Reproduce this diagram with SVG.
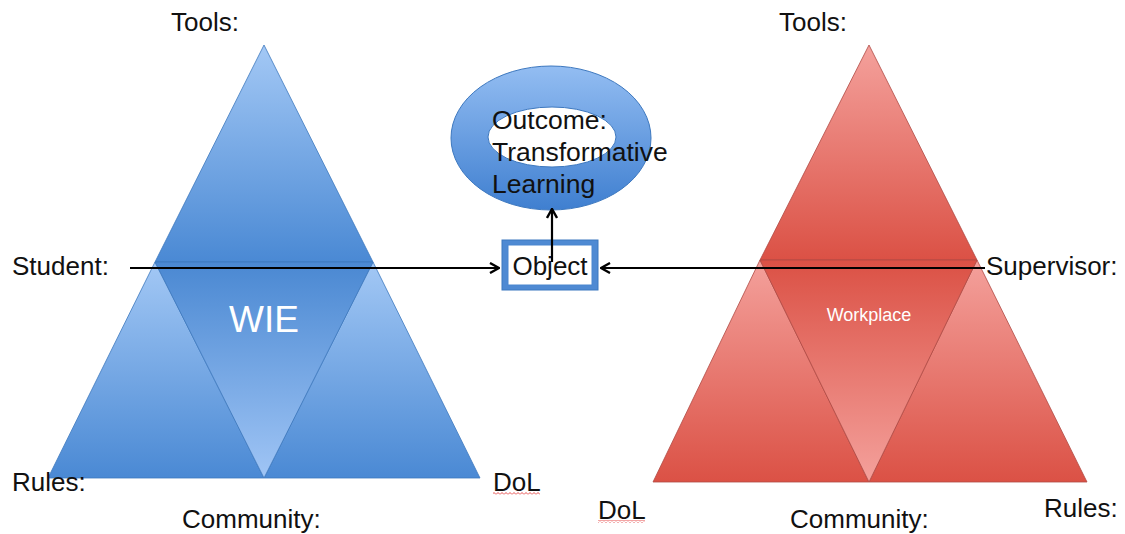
<svg xmlns="http://www.w3.org/2000/svg" width="1125" height="534" viewBox="0 0 1125 534">
<defs>
<linearGradient id="bUp" x1="0" y1="0" x2="0" y2="1"><stop offset="0" stop-color="#A3C8F5"/><stop offset="1" stop-color="#4A89D4"/></linearGradient>
<linearGradient id="bDown" x1="0" y1="0" x2="0" y2="1"><stop offset="0" stop-color="#4A88D2"/><stop offset="1" stop-color="#A0C5F5"/></linearGradient>
<linearGradient id="rUp" x1="0" y1="0" x2="0" y2="1"><stop offset="0" stop-color="#F4A19C"/><stop offset="1" stop-color="#DB5145"/></linearGradient>
<linearGradient id="rDown" x1="0" y1="0" x2="0" y2="1"><stop offset="0" stop-color="#DB5145"/><stop offset="1" stop-color="#F4A19C"/></linearGradient>
<linearGradient id="ring" x1="0" y1="0" x2="0" y2="1"><stop offset="0" stop-color="#93BDF2"/><stop offset="1" stop-color="#3F7FD0"/></linearGradient>
<marker id="arr" viewBox="0 0 12 12" refX="11" refY="6" markerWidth="12" markerHeight="12" markerUnits="userSpaceOnUse" orient="auto">
<path d="M2,1 L11,6 L2,11" fill="none" stroke="#000" stroke-width="2.4"/>
</marker>
<pattern id="wavy" width="4" height="3" patternUnits="userSpaceOnUse"><path d="M0,2.5 L2,0.5 L4,2.5" fill="none" stroke="#E02020" stroke-width="0.8"/></pattern>
</defs>
<style>
.lbl{font-family:"Liberation Sans",Arial,sans-serif;font-size:26px;fill:#111}
.bt{stroke:#3E78BE;stroke-width:0.8;stroke-linejoin:round}
.rt{stroke:#B04A44;stroke-width:0.8;stroke-linejoin:round}
.conn{stroke:#000;stroke-width:2.2;fill:none}
</style>

<g id="wie-triangle">
<polygon class="bt" points="264,45 373,262 155,262" fill="url(#bUp)"/>
<polygon class="bt" points="155,262 264,478 48,478" fill="url(#bUp)"/>
<polygon class="bt" points="373,262 480,478 264,478" fill="url(#bUp)"/>
<polygon class="bt" points="155,262 373,262 264,478" fill="url(#bDown)"/>
<text x="264" y="332" text-anchor="middle" style="font-family:'Liberation Sans',Arial,sans-serif;font-size:37px;fill:#fff">WIE</text>
</g>

<g id="workplace-triangle">
<polygon class="rt" points="869,45 977,260 760,260" fill="url(#rUp)"/>
<polygon class="rt" points="760,260 869,482 653,482" fill="url(#rUp)"/>
<polygon class="rt" points="977,260 1087,482 869,482" fill="url(#rUp)"/>
<polygon class="rt" points="760,260 977,260 869,482" fill="url(#rDown)"/>
<text x="869" y="321" text-anchor="middle" style="font-family:'Liberation Sans',Arial,sans-serif;font-size:18px;fill:#fff">Workplace</text>
</g>

<g id="outcome">
<path d="M451,138 a100,72 0 1,0 200,0 a100,72 0 1,0 -200,0 Z M488,137 a64,30 0 1,0 128,0 a64,30 0 1,0 -128,0 Z" fill="url(#ring)" fill-rule="evenodd" stroke="#3D78BF" stroke-width="1"/>
<text class="lbl" x="492" y="129" style="font-size:26.5px">Outcome:</text>
<text class="lbl" x="492" y="161" style="font-size:26.5px">Transformative</text>
<text class="lbl" x="492" y="193" style="font-size:26.5px">Learning</text>
</g>

<g id="object">
<rect x="502" y="240" width="96" height="50" fill="#4F8AD3" stroke="#3D78BF" stroke-width="1"/>
<rect x="508" y="245" width="84" height="40" fill="#fff" stroke="#4A86CF" stroke-width="1"/>
<text class="lbl" x="550" y="275" text-anchor="middle">Object</text>
</g>

<g id="connectors">
<line class="conn" x1="130" y1="268" x2="499" y2="268" marker-end="url(#arr)"/>
<line class="conn" x1="985" y1="268" x2="601" y2="268" marker-end="url(#arr)"/>
<line class="conn" x1="552" y1="262" x2="552" y2="209" marker-end="url(#arr)"/>
</g>

<g id="labels">
<text class="lbl" x="171" y="31">Tools:</text>
<text class="lbl" x="779" y="31">Tools:</text>
<text class="lbl" x="12" y="275">Student:</text>
<text class="lbl" x="986" y="275">Supervisor:</text>
<text class="lbl" x="12" y="491">Rules:</text>
<text class="lbl" x="1044" y="517">Rules:</text>
<text class="lbl" x="182" y="528">Community:</text>
<text class="lbl" x="790" y="528">Community:</text>
<text class="lbl" x="493" y="491">DoL</text>
<rect x="493" y="492" width="47" height="3" fill="url(#wavy)"/>
<text class="lbl" x="598" y="519">DoL</text>
<rect x="598" y="520" width="47" height="3" fill="url(#wavy)"/>
</g>
</svg>
